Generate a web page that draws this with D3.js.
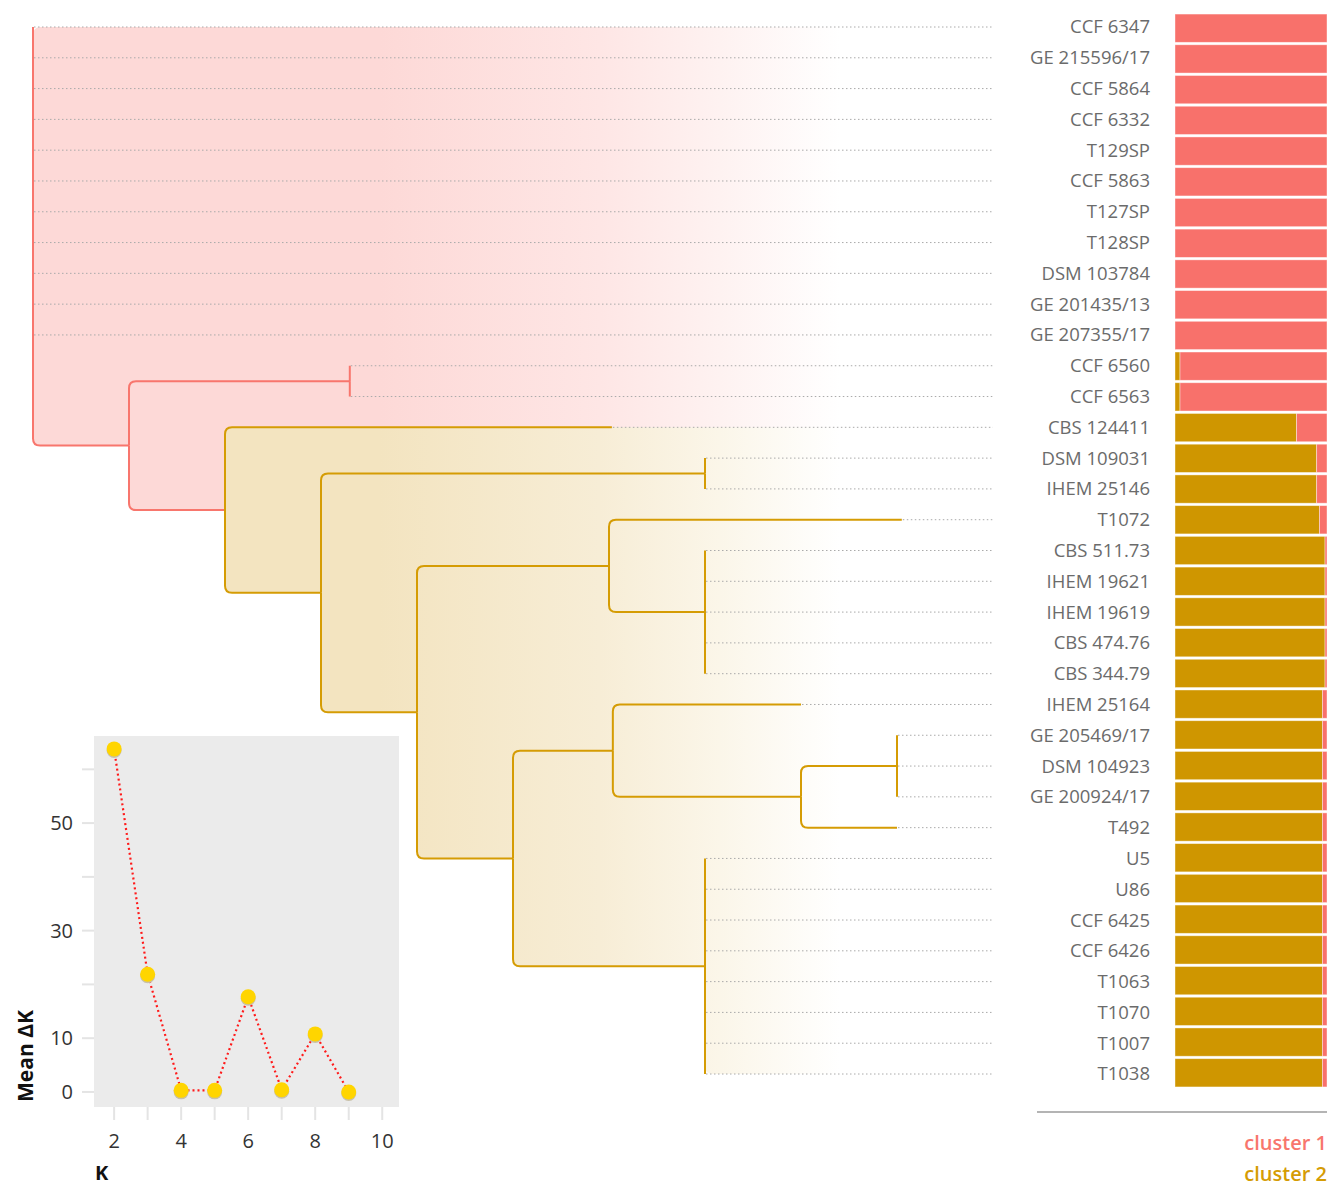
<!DOCTYPE html>
<html>
<head>
<meta charset="utf-8">
<script src="https://cdn.jsdelivr.net/npm/d3@7"></script>
<style>
  body { margin: 0; background: #fff; }
  text { font-family: "Open Sans", "DejaVu Sans", sans-serif; }
</style>
</head>
<body>
<div class="svg-container"></div>
<script>
var width = 1327, height = 1187;

// strain order (top to bottom)
var leafNames = [
  "CCF 6347", "GE 215596/17", "CCF 5864", "CCF 6332", "T129SP", "CCF 5863",
  "T127SP", "T128SP", "DSM 103784", "GE 201435/13", "GE 207355/17",
  "CCF 6560", "CCF 6563", "CBS 124411", "DSM 109031", "IHEM 25146", "T1072",
  "CBS 511.73", "IHEM 19621", "IHEM 19619", "CBS 474.76", "CBS 344.79",
  "IHEM 25164", "GE 205469/17", "DSM 104923", "GE 200924/17", "T492",
  "U5", "U86", "CCF 6425", "CCF 6426", "T1063", "T1070", "T1007", "T1038"
];

// membership in cluster 2 (rest is cluster 1)
var cluster2Share = [
  0, 0, 0, 0, 0, 0, 0, 0, 0, 0, 0,
  0.033, 0.033, 0.80, 0.932, 0.932, 0.95,
  0.987, 0.987, 0.987, 0.987, 0.987,
  0.97, 0.97, 0.97, 0.97, 0.97,
  0.97, 0.97, 0.97, 0.97, 0.97, 0.97, 0.97, 0.97
];

// internal nodes: [id, parent, depth from root, cluster]
var innerNodes = [
  ["root", "", 0, 1],
  ["n1", "root", 1.0, 1],
  ["n2", "n1", 3.3, 1],
  ["n3", "n1", 2.0, 2],
  ["n4", "n3", 3.0, 2],
  ["n5", "n4", 7.0, 2],
  ["n6", "n4", 4.0, 2],
  ["n7", "n6", 6.0, 2],
  ["n8", "n7", 7.0, 2],
  ["n9", "n6", 5.0, 2],
  ["n10", "n9", 6.04, 2],
  ["n11", "n10", 8.0, 2],
  ["n12", "n11", 9.0, 2],
  ["n13", "n9", 7.0, 2]
];

// leaf parent and depth, same order as leafNames
var leafParent = [
  "root", "root", "root", "root", "root", "root", "root", "root", "root", "root", "root",
  "n2", "n2", "n3", "n5", "n5", "n7",
  "n8", "n8", "n8", "n8", "n8",
  "n10", "n12", "n12", "n12", "n11",
  "n13", "n13", "n13", "n13", "n13", "n13", "n13", "n13"
];
var leafDepth = [
  0, 0, 0, 0, 0, 0, 0, 0, 0, 0, 0,
  3.3, 3.3, 6.03, 7.0, 7.0, 9.05,
  7.0, 7.0, 7.0, 7.0, 7.0,
  8.0, 9.0, 9.0, 9.0, 9.0,
  7.0, 7.0, 7.0, 7.0, 7.0, 7.0, 7.0, 7.0
];

// Evanno plot
var kValues = [2, 3, 4, 5, 6, 7, 8, 9];
var meanDeltaK = [63.8, 21.9, 0.3, 0.3, 17.7, 0.4, 10.8, 0];
var kTicks = [2, 4, 6, 8, 10];
var dkTickLabels = [0, 10, 30, 50];

var clusterNames = ["cluster 1", "cluster 2"];
var lineColor = { 1: "#f8766d", 2: "#d59c04" };
var fillColor = { 1: "#fdd9d7", 2: "#f3e4c0" };
var barColor = { 1: "#f8716b", 2: "#cf9600" };

var svg = d3.select(".svg-container").append("svg")
  .attr("width", width).attr("height", height);

// ---- tree ----
var table = innerNodes.map(d => ({ id: d[0], parent: d[1] || null, depth: d[2], group: d[3] }));
leafNames.forEach((name, i) => {
  var p = innerNodes.find(n => n[0] === leafParent[i]);
  table.push({ id: name, parent: leafParent[i], depth: leafDepth[i], group: p[3], leaf: i });
});
var root = d3.stratify().id(d => d.id).parentId(d => d.parent)(table);

var x = d3.scaleLinear().domain([0, 10]).range([33, 993]);
var y = d3.scalePoint().domain(leafNames).range([27, 1074]);

root.eachAfter(n => {
  n.px = x(n.data.depth);
  n.py = n.children ? d3.mean(n.children, c => c.py) : y(n.data.id);
  if (n.children) {
    n.top = d3.min(n.children, c => c.py);
    n.bottom = d3.max(n.children, c => c.py);
  }
});

var defs = svg.append("defs");
[1, 2].forEach(g => {
  var grad = defs.append("linearGradient").attr("id", "fade" + g)
    .attr("gradientUnits", "userSpaceOnUse")
    .attr("x1", 0).attr("x2", 1000).attr("y1", 0).attr("y2", 0);
  [[0, 0], [0.38, 0], [0.6, 0.35], [0.72, 0.65], [0.84, 1]].forEach(s => {
    var c = d3.interpolateRgb(fillColor[g], "#ffffff")(s[1]);
    grad.append("stop").attr("offset", s[0]).attr("stop-color", c);
  });
});

// clade shading, parents first
var inner = root.descendants().filter(n => n.children);
svg.append("g").selectAll("rect").data(inner).join("rect")
  .attr("x", n => n.px)
  .attr("y", n => n.top)
  .attr("width", n => 1000 - n.px)
  .attr("height", n => n.bottom - n.top)
  .attr("rx", 7)
  .attr("fill", n => "url(#fade" + n.data.group + ")");

// dotted guides to labels
svg.append("g").selectAll("line").data(root.leaves()).join("line")
  .attr("x1", n => n.px + 1).attr("x2", 993)
  .attr("y1", n => n.py).attr("y2", n => n.py)
  .attr("stroke", "#aaa").attr("stroke-width", 1)
  .attr("stroke-dasharray", "1.5,2.5");

// elbow links with rounded corners
var r = 7;
var elbow = l => {
  var s = l.source, t = l.target;
  if (t.px - s.px < 1) return "M" + s.px + "," + s.py + "V" + t.py;
  var dir = t.py > s.py ? 1 : -1;
  var rr = Math.min(r, Math.abs(t.py - s.py));
  return "M" + s.px + "," + s.py +
    "V" + (t.py - dir * rr) +
    "Q" + s.px + "," + t.py + " " + (s.px + rr) + "," + t.py +
    "H" + t.px;
};
svg.append("g").selectAll("path").data(root.links()).join("path")
  .attr("d", elbow)
  .attr("fill", "none")
  .attr("stroke", l => lineColor[l.source.data.group])
  .attr("stroke-width", 2);

// labels
svg.append("g").selectAll("text").data(leafNames).join("text")
  .attr("x", 1150).attr("y", d => y(d)).attr("dy", "0.35em")
  .attr("text-anchor", "end")
  .attr("font-size", 18.5).attr("fill", "#6b6b6b")
  .text(d => d);

// ---- admixture bars ----
var band = d3.scaleBand().domain(leafNames).range([27 - 15.4, 1074 + 15.4]).padding(0.08);
var share = d3.scaleLinear().domain([0, 1]).range([1175, 1327]);
var bars = svg.append("g").selectAll("g").data(leafNames).join("g");
bars.append("rect")
  .attr("x", share(0)).attr("y", d => band(d))
  .attr("width", (d, i) => share(cluster2Share[i]) - share(0))
  .attr("height", band.bandwidth())
  .attr("fill", barColor[2]);
bars.append("rect")
  .attr("x", (d, i) => share(cluster2Share[i])).attr("y", d => band(d))
  .attr("width", (d, i) => share(1) - share(cluster2Share[i]))
  .attr("height", band.bandwidth())
  .attr("fill", barColor[1]);
bars.selectAll("rect").attr("stroke", "#fff").attr("stroke-opacity", 0.5).attr("stroke-width", 0.8);

// legend
svg.append("line").attr("x1", 1037).attr("x2", 1327).attr("y1", 1112).attr("y2", 1112)
  .attr("stroke", "#b4b4b4").attr("stroke-width", 2);
svg.append("g").selectAll("text").data(clusterNames).join("text")
  .attr("x", 1327).attr("y", (d, i) => 1150 + i * 31)
  .attr("text-anchor", "end").attr("font-size", 20).attr("font-weight", 600)
  .attr("fill", (d, i) => lineColor[i + 1])
  .text(d => d);

// ---- inset: mean delta K ----
var kx = d3.scaleLinear().domain([1.4, 10.5]).range([94, 399]);
var ky = d3.scaleLinear().domain([-2.8, 66.2]).range([1107, 736]);
var inset = svg.append("g");
inset.append("rect").attr("x", 94).attr("y", 736).attr("width", 305).attr("height", 371)
  .attr("fill", "#ebebeb");

inset.append("g").selectAll("line").data(d3.range(2, 11)).join("line")
  .attr("x1", d => kx(d)).attr("x2", d => kx(d)).attr("y1", 1107).attr("y2", 1120)
  .attr("stroke", "#e4e4e4").attr("stroke-width", 2);
inset.append("g").selectAll("line").data(d3.range(0, 61, 10)).join("line")
  .attr("x1", 82).attr("x2", 94).attr("y1", d => ky(d)).attr("y2", d => ky(d))
  .attr("stroke", "#e4e4e4").attr("stroke-width", 2);
inset.append("g").selectAll("text").data(kTicks).join("text")
  .attr("x", d => kx(d)).attr("y", 1141).attr("dy", "0.35em")
  .attr("text-anchor", "middle").attr("font-size", 20).attr("fill", "#333")
  .text(d => d);
inset.append("g").selectAll("text").data(dkTickLabels).join("text")
  .attr("x", 73).attr("y", d => ky(d)).attr("dy", "0.35em")
  .attr("text-anchor", "end").attr("font-size", 20).attr("fill", "#333")
  .text(d => d);
inset.append("text").attr("x", 95).attr("y", 1180)
  .attr("font-size", 20).attr("font-weight", 700).attr("fill", "#111").text("K");
inset.append("text").attr("transform", "translate(33,1056) rotate(-90)")
  .attr("text-anchor", "middle")
  .attr("font-size", 21).attr("font-weight", 700).attr("fill", "#111").text("Mean ΔK");

var pts = kValues.map((k, i) => [k, meanDeltaK[i]]);
inset.append("path").datum(pts)
  .attr("d", d3.line().x(d => kx(d[0])).y(d => ky(d[1])))
  .attr("fill", "none").attr("stroke", "#ff1a1a").attr("stroke-width", 2.2)
  .attr("stroke-dasharray", "2,3");
inset.append("g").selectAll("circle").data(pts).join("circle")
  .attr("cx", d => kx(d[0])).attr("cy", d => ky(d[1]) + 1.5).attr("r", 7.5)
  .attr("fill", "#c8c0a8");
inset.append("g").selectAll("circle").data(pts).join("circle")
  .attr("cx", d => kx(d[0])).attr("cy", d => ky(d[1])).attr("r", 7.5)
  .attr("fill", "#ffd500");
</script>
</body>
</html>
